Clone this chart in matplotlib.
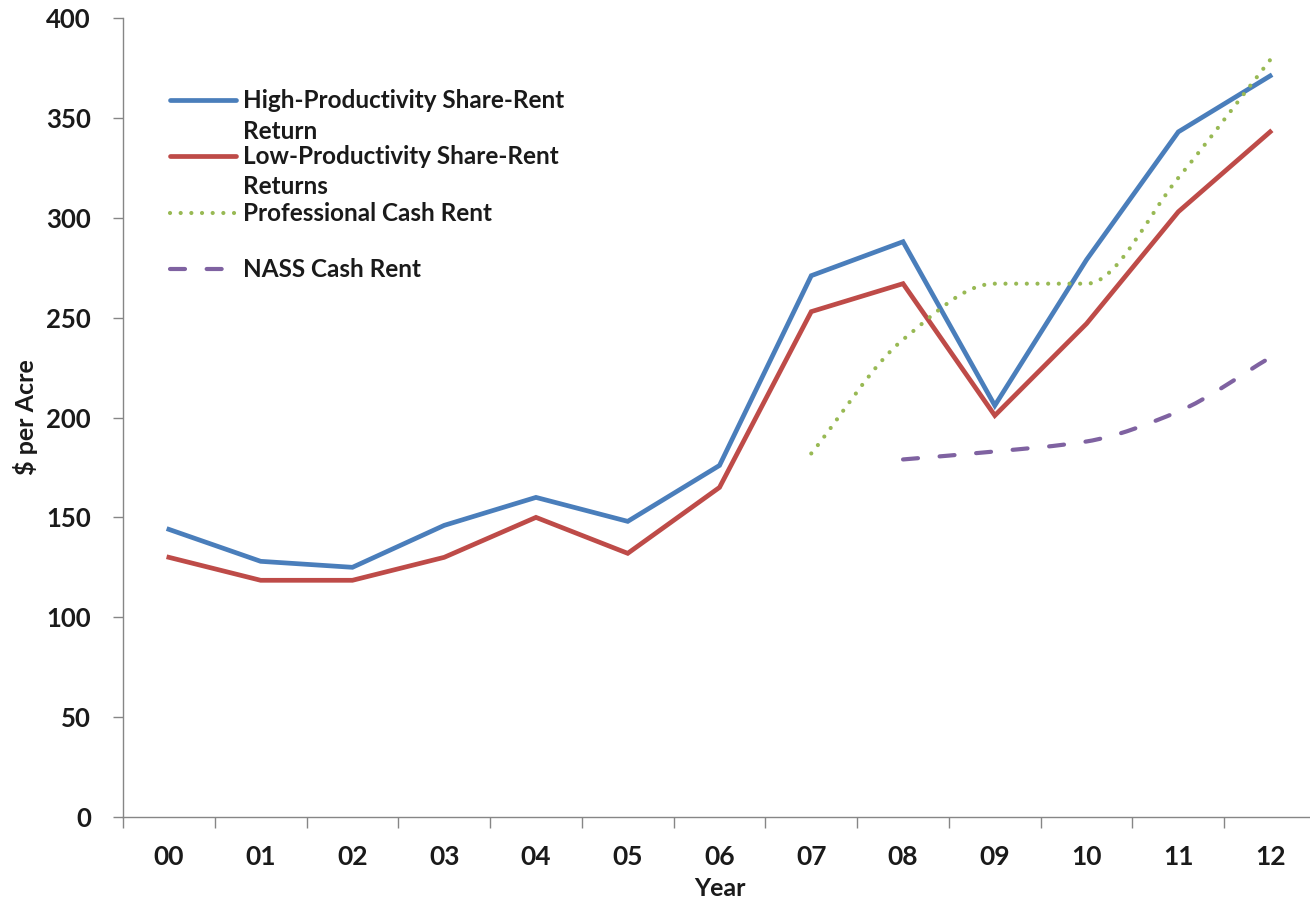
import matplotlib
matplotlib.use("Agg")
import matplotlib.pyplot as plt
import numpy as np
from matplotlib.path import Path
from matplotlib.patches import PathPatch
from matplotlib.lines import Line2D

# ---- data ($ per acre) ----
years = ["00", "01", "02", "03", "04", "05", "06", "07", "08", "09", "10", "11", "12"]
high_share = [144, 128, 125, 146, 160, 148, 176, 271, 288, 206, 279, 343, 371]
low_share = [130, 118.5, 118.5, 130, 150, 132, 165, 253, 267, 201, 247, 303, 343]
prof_years = ["07", "08", "09", "10", "11", "12"]
prof_cash = [182, 239, 267, 267, 320, 379]
nass_years = ["08", "09", "10", "11", "12"]
nass_cash = [179, 183, 188, 203, 230]

labels = [["High-Productivity Share-Rent", "Return"],
          ["Low-Productivity Share-Rent", "Returns"],
          ["Professional Cash Rent"],
          ["NASS Cash Rent"]]

BLUE = "#4A7EBB"
RED = "#BE4B48"
GREEN = "#98B954"
PURPLE = "#7F62A1"
GRAY = "#868686"
TXT = "#1a1a1a"
FONT = "Lato"

W, H = 1310, 902
fig = plt.figure(figsize=(W / 100, H / 100), dpi=100)
fig.patch.set_facecolor("white")

# plot area in pixels (left, top, right, bottom)
L, T, R, B = 123, 18, 1316, 817
ax = fig.add_axes([L / W, 1 - B / H, (R - L) / W, (B - T) / H])

xpos = {y: i for i, y in enumerate(years)}
x_all = np.arange(len(years))

ax.plot(x_all, high_share, color=BLUE, lw=3.4, solid_joinstyle="miter", zorder=3)
ax.plot(x_all, low_share, color=RED, lw=3.4, solid_joinstyle="miter", zorder=3)


def smooth_path(xs, ys):
    """Monotone cubic Bezier path through the points."""
    xs = np.asarray(xs, float)
    ys = np.asarray(ys, float)
    n = len(xs)
    h = np.diff(xs)
    d = np.diff(ys) / h
    m = np.zeros(n)
    m[0], m[-1] = d[0], d[-1]
    for i in range(1, n - 1):
        if d[i - 1] * d[i] <= 0:
            m[i] = 0.0
        else:
            m[i] = 2 * d[i - 1] * d[i] / (d[i - 1] + d[i])
    verts = [(xs[0], ys[0])]
    codes = [Path.MOVETO]
    for i in range(n - 1):
        verts += [(xs[i] + h[i] / 3, ys[i] + m[i] * h[i] / 3),
                  (xs[i + 1] - h[i] / 3, ys[i + 1] - m[i + 1] * h[i] / 3),
                  (xs[i + 1], ys[i + 1])]
        codes += [Path.CURVE4] * 3
    return Path(verts, codes)


DOT = (0, (0.01, 2.55))
DASH = (0, (3.6, 5.2))

prof_x = [xpos[y] for y in prof_years]
nass_x = [xpos[y] for y in nass_years]

ax.add_patch(PathPatch(smooth_path(prof_x, prof_cash), fill=False, edgecolor=GREEN,
                       lw=3.0, linestyle=DOT, capstyle="round", zorder=4))
ax.add_patch(PathPatch(smooth_path(nass_x, nass_cash), fill=False, edgecolor=PURPLE,
                       lw=3.0, linestyle=DASH, capstyle="round", zorder=4))

# axes
ax.set_xlim(-0.5, len(years) - 0.5)
ax.set_ylim(0, 400)
for s in ["top", "right"]:
    ax.spines[s].set_visible(False)
for s in ["left", "bottom"]:
    ax.spines[s].set_color(GRAY)
    ax.spines[s].set_linewidth(1.0)

ax.set_yticks(np.arange(0, 401, 50))
ax.tick_params(axis="y", length=7, width=1, color=GRAY, pad=16, labelcolor=TXT)
for lab in ax.get_yticklabels():
    lab.set_fontfamily(FONT)
    lab.set_fontweight("bold")
    lab.set_fontsize(18.5)

ax.set_xticks(x_all)
ax.set_xticklabels(years)
ax.set_xticks(np.arange(-0.5, len(years) + 0.5, 1), minor=True)
ax.tick_params(axis="x", which="major", length=0, pad=20, labelcolor=TXT)
ax.tick_params(axis="x", which="minor", length=8, width=1, color=GRAY)
for lab in ax.get_xticklabels():
    lab.set_fontfamily(FONT)
    lab.set_fontweight("bold")
    lab.set_fontsize(19)

ax.set_xlabel("Year", fontsize=18, fontweight="bold", fontfamily=FONT, color=TXT)
ax.xaxis.set_label_coords(0.5, -(888 - B) / (B - T), transform=ax.transAxes)
ax.xaxis.label.set_va("center")
ax.set_ylabel("$ per Acre", fontsize=18, fontweight="bold", fontfamily=FONT, color=TXT)
ax.yaxis.set_label_coords((25 - L) / (R - L), 0.5, transform=ax.transAxes)
ax.yaxis.label.set_va("center")


# legend, drawn in figure pixels
def fx(px):
    return px / W


def fy(py):
    return 1 - py / H


entries = [(BLUE, "-", 100), (RED, "-", 155.5), (GREEN, DOT, 213), (PURPLE, DASH, 269)]
for (col, ls, ypx), lines in zip(entries, labels):
    fig.add_artist(Line2D([fx(170), fx(236)], [fy(ypx), fy(ypx)], transform=fig.transFigure,
                          color=col, lw=3.4 if ls == "-" else 3.0, linestyle=ls,
                          dash_capstyle="round", solid_capstyle="round"))
    for k, line in enumerate(lines):
        fig.text(fx(243), fy(ypx + 8 + 31 * k), line, transform=fig.transFigure,
                 ha="left", va="baseline", fontsize=17.5, fontweight="bold",
                 fontfamily=FONT, color=TXT)

fig.savefig("out.png", dpi=100, facecolor="white")
